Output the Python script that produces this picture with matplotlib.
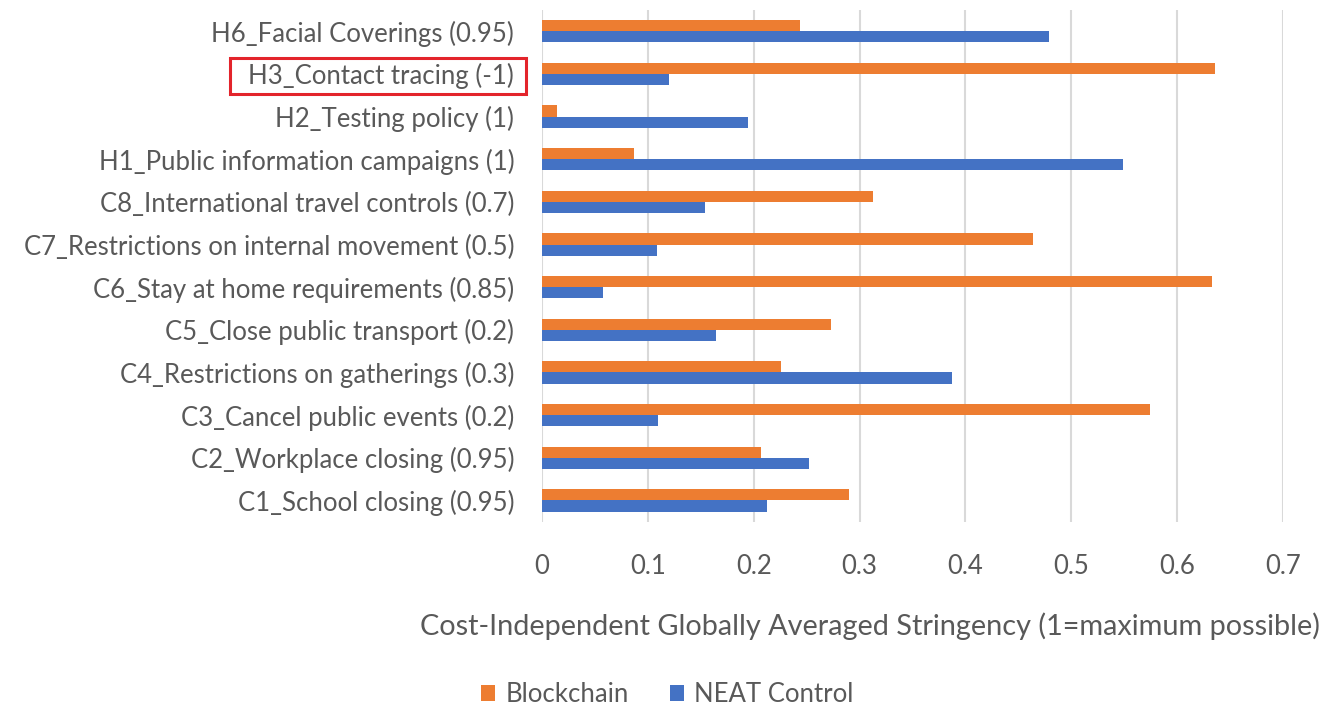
import numpy as np
import matplotlib.pyplot as plt
from matplotlib.patches import Rectangle

categories = ["C1_School closing (0.95)", "C2_Workplace closing (0.95)",
              "C3_Cancel public events (0.2)", "C4_Restrictions on gatherings (0.3)",
              "C5_Close public transport (0.2)", "C6_Stay at home requirements (0.85)",
              "C7_Restrictions on internal movement (0.5)", "C8_International travel controls (0.7)",
              "H1_Public information campaigns (1)", "H2_Testing policy (1)",
              "H3_Contact tracing (-1)", "H6_Facial Coverings (0.95)"]
blockchain = [0.290, 0.207, 0.574, 0.226, 0.273, 0.633, 0.464, 0.313, 0.087, 0.014, 0.636, 0.244]
neat = [0.213, 0.252, 0.110, 0.387, 0.164, 0.058, 0.109, 0.154, 0.549, 0.195, 0.120, 0.479]

plt.rcParams['font.family'] = ['Lato', 'DejaVu Sans']
grey = '#595959'

fig = plt.figure(figsize=(13.35, 7.07), dpi=100)
ax = fig.add_axes([0.406, 0.262, 0.555, 0.724])

y = np.arange(len(categories))
h = 0.26
ax.barh(y + h / 2, blockchain, height=h, color='#ED7D31', label='Blockchain', zorder=3)
ax.barh(y - h / 2, neat, height=h, color='#4472C4', label='NEAT Control', zorder=3)

ax.set_xlim(0, 0.7)
ax.set_ylim(-0.5, len(categories) - 0.5)
ax.set_xticks(np.arange(0, 0.71, 0.1))
ax.set_xticklabels(['0', '0.1', '0.2', '0.3', '0.4', '0.5', '0.6', '0.7'])
ax.set_yticks(y)
ax.set_yticklabels(categories)
ax.tick_params(axis='both', length=0, labelsize=18.5, labelcolor=grey)
ax.tick_params(axis='x', pad=23)
ax.tick_params(axis='y', pad=20)
ax.grid(axis='x', color='#D9D9D9', linewidth=1.5, zorder=0)
for s in ax.spines.values():
    s.set_visible(False)

ax.set_xlabel('Cost-Independent Globally Averaged Stringency (1=maximum possible)',
              fontsize=20.8, color=grey)
ax.xaxis.set_label_coords(0.442, -0.178)

fig.legend(loc='lower center', bbox_to_anchor=(0.5, -0.033), ncol=2, frameon=False,
           fontsize=18.5, labelcolor=grey, handlelength=0.55, handleheight=0.55,
           columnspacing=1.6, handletextpad=0.4)

# red box around H3 label
fig.canvas.draw()
lab = ax.get_yticklabels()[categories.index("H3_Contact tracing (-1)")]
bb = lab.get_window_extent()
fig.patches.append(Rectangle((bb.x0 - 18, bb.y0 - 5), bb.width + 30, bb.height + 10,
                             transform=None, fill=False, edgecolor='#E3242B',
                             linewidth=2.2, figure=fig))

fig.savefig('out.png', dpi=100)
